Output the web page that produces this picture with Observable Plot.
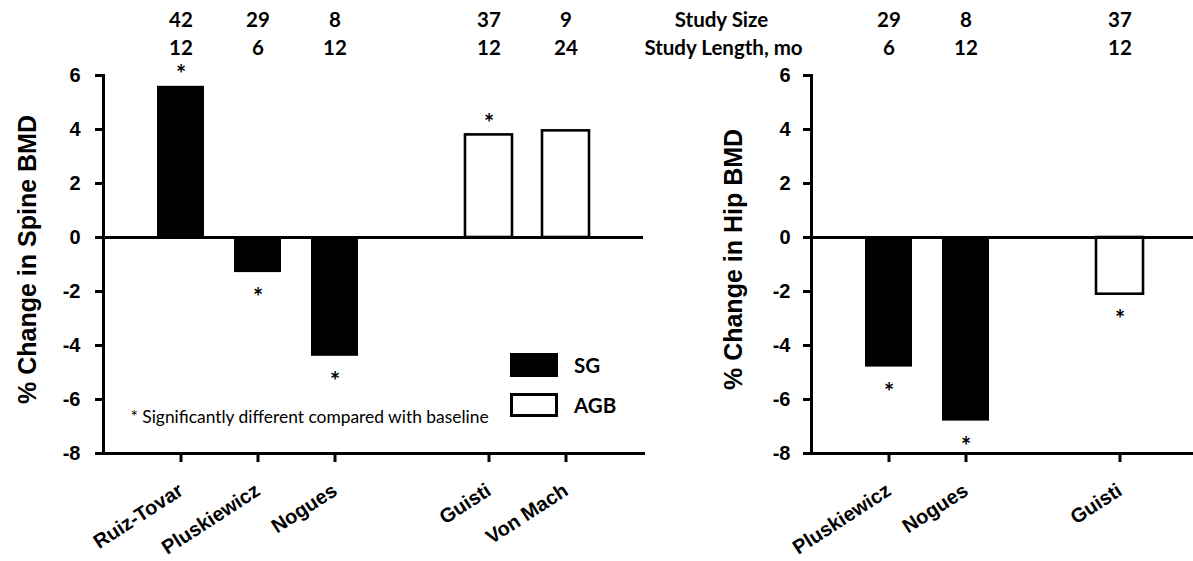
<!DOCTYPE html>
<html>
<head>
<meta charset="utf-8">
<script src="https://cdn.jsdelivr.net/npm/d3@7"></script>
<script src="https://cdn.jsdelivr.net/npm/@observablehq/plot@0.6"></script>
<style>
  html, body { margin: 0; padding: 0; background: #fff; overflow: hidden; }
  #figure { position: relative; width: 1193px; height: 561px; }
  #figure svg { position: absolute; top: 0; }
  g[aria-label="baseline"], g[aria-label="axis line"] {
    filter: drop-shadow(0px 2px 1.5px rgba(0,0,0,0.3));
  }
  .legend { position: absolute; left: 510px; top: 353px; font-family: Lato, sans-serif; font-weight: bold; font-size: 20.5px; }
  .legend .row { display: flex; align-items: center; height: 24px; margin-bottom: 16px; }
  .legend .swatch { width: 48px; height: 24px; box-sizing: border-box; margin-right: 16px; }
</style>
</head>
<body>
<div id="figure"></div>
<script>
// Percent change in bone mineral density after surgery, by study.
const yTicks = [-8, -6, -4, -2, 0, 2, 4, 6];

const spineStudies = ["Ruiz-Tovar", "Pluskiewicz", "Nogues", "Guisti", "Von Mach"];
const spineGroups = ["SG", "SG", "SG", "AGB", "AGB"];
const spineChange = [5.6, -1.3, -4.4, 3.8, 3.95];
const spineSignificant = [true, true, true, true, false];
const spineSize = [42, 29, 8, 37, 9];
const spineLength = [12, 6, 12, 12, 24];
const spineSlots = ["Ruiz-Tovar", "Pluskiewicz", "Nogues", "sg-agb-gap", "Guisti", "Von Mach"];

const hipStudies = ["Pluskiewicz", "Nogues", "Guisti"];
const hipGroups = ["SG", "SG", "AGB"];
const hipChange = [-4.8, -6.8, -2.1];
const hipSignificant = [true, true, true];
const hipSize = [29, 8, 37];
const hipLength = [6, 12, 12];
const hipSlots = ["Pluskiewicz", "Nogues", "sg-agb-gap", "Guisti"];

const legendGroups = ["SG", "AGB"];
const footnote = "* Significantly different compared with baseline";
const rowTitles = ["Study Size", "Study Length, mo"];

const sansBold = {fontFamily: "Lato, sans-serif", fontWeight: "bold"};
const arialBold = {fontFamily: "Liberation Sans, Arial, sans-serif", fontWeight: "bold"};

function bmdChart(o) {
  const rows = o.studies.map((study, i) => ({
    study, group: o.groups[i], change: o.change[i], sig: o.significant[i],
    size: o.size[i], length: o.length[i]
  }));
  const rowText = {textAnchor: "middle", lineAnchor: "middle", fontSize: 20.5, ...sansBold};
  const marks = [
    Plot.barY(rows.filter(d => d.group === "SG"), {x: "study", y: "change", fill: "black"}),
    Plot.barY(rows.filter(d => d.group === "AGB"), {x: "study", y: "change", fill: "white", stroke: "black", strokeWidth: 2.6}),
    Plot.ruleY([0], {stroke: "black", strokeWidth: 3, ariaLabel: "baseline"}),
    Plot.frame({anchor: "left", stroke: "black", strokeWidth: 3, ariaLabel: "axis line"}),
    Plot.frame({anchor: "bottom", stroke: "black", strokeWidth: 3, ariaLabel: "axis line"}),
    Plot.axisY({ticks: yTicks, tickSize: 8, tickPadding: o.yPadding, strokeWidth: 3, tickFormat: d => String(d),
      fontSize: 20, ...arialBold, label: null}),
    Plot.axisX({ticks: o.studies, tickSize: 9, strokeWidth: 3, tickRotate: -33, tickPadding: 26,
      fontSize: 20, ...arialBold, label: null}),
    // significance markers above positive bars and below negative ones
    Plot.text(rows.filter(d => d.sig && d.change > 0), {x: "study", y: "change", text: () => "*", dy: -11, lineAnchor: "middle", fontSize: 24, ...sansBold}),
    Plot.text(rows.filter(d => d.sig && d.change < 0), {x: "study", y: "change", text: () => "*", dy: 26, lineAnchor: "middle", fontSize: 24, ...sansBold}),
    // study size and length rows above the frame
    Plot.text(rows, {x: "study", text: d => String(d.size), frameAnchor: "top", dy: -55, ...rowText}),
    Plot.text(rows, {x: "study", text: d => String(d.length), frameAnchor: "top", dy: -27, ...rowText}),
    Plot.text([o.yTitle], {text: d => d, frameAnchor: "left", textAnchor: "middle", lineAnchor: "middle",
      rotate: -90, dx: o.titleOffset, dy: -5, fontSize: 25, ...arialBold})
  ];
  if (o.rowTitles) {
    marks.push(Plot.text([o.rowTitles[0]], {text: d => d, frameAnchor: "top-left", dx: -90, dy: -55, ...rowText}));
    marks.push(Plot.text([o.rowTitles[1]], {text: d => d, frameAnchor: "top-left", dx: -88, dy: -27, ...rowText}));
  }
  if (o.footnote) {
    marks.push(Plot.text([o.footnote], {text: d => d, frameAnchor: "bottom-left", textAnchor: "start", lineAnchor: "middle",
      dx: 27, dy: -36, fontSize: 17.4, fontFamily: "Lato, sans-serif"}));
  }
  const svg = Plot.plot({
    width: o.width,
    height: 561,
    marginTop: 75,
    marginBottom: 108,
    marginLeft: o.marginLeft,
    marginRight: o.marginRight,
    style: {background: "transparent", overflow: "visible", fontFamily: "Liberation Sans, Arial, sans-serif", color: "black"},
    x: {domain: o.slots, paddingInner: 0.385, paddingOuter: 0.6925, ...(o.xRange ? {range: o.xRange} : {})},
    y: {domain: [-8, 6]},
    marks
  });
  svg.style.left = o.left + "px";
  return svg;
}

const fig = document.getElementById("figure");
fig.append(bmdChart({
  studies: spineStudies, groups: spineGroups, change: spineChange, significant: spineSignificant,
  size: spineSize, length: spineLength, slots: spineSlots,
  yTitle: "% Change in Spine BMD", titleOffset: -76, yPadding: 15, footnote,
  left: 0, width: 645, marginLeft: 103, marginRight: 2
}));
fig.append(bmdChart({
  studies: hipStudies, groups: hipGroups, change: hipChange, significant: hipSignificant,
  size: hipSize, length: hipLength, slots: hipSlots,
  yTitle: "% Change in Hip BMD", titleOffset: -78, yPadding: 13, rowTitles,
  left: 630, width: 563, marginLeft: 181, marginRight: 0, xRange: [181, 567]
}));

// legend for the two surgery groups
const legend = document.createElement("div");
legend.className = "legend";
for (const g of legendGroups) {
  const row = document.createElement("div");
  row.className = "row";
  const sw = document.createElement("div");
  sw.className = "swatch";
  sw.style.background = g === "SG" ? "black" : "white";
  sw.style.border = "3px solid black";
  const label = document.createElement("span");
  label.textContent = g;
  row.append(sw, label);
  legend.append(row);
}
fig.append(legend);
</script>
</body>
</html>
